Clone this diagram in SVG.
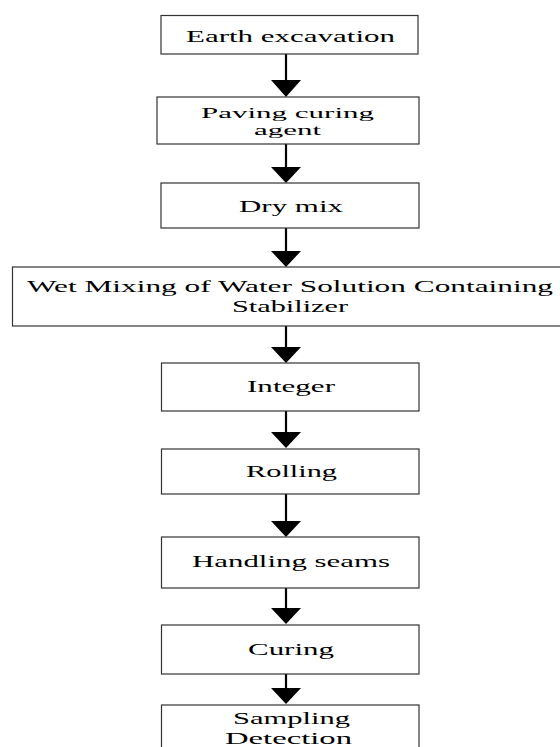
<svg xmlns="http://www.w3.org/2000/svg" width="560" height="747" viewBox="0 0 560 747">
<defs>
<style>
.box{fill:#fff;stroke:#333;stroke-width:1.2}
.t{font-family:"Liberation Serif","Times New Roman",serif;font-size:16.5px;fill:#000;text-anchor:start}
.s{font-size:15px}
.c{stroke:#000;stroke-width:2.2;fill:none}
.h{fill:#000;stroke:none}
</style>
</defs>
<rect width="560" height="747" fill="#fff"/>
<g id="connectors">
<line class="c" x1="286" y1="54" x2="286" y2="81"/>
<line class="c" x1="286" y1="144" x2="286" y2="168"/>
<line class="c" x1="286" y1="228" x2="286" y2="252"/>
<line class="c" x1="286" y1="326" x2="286" y2="348"/>
<line class="c" x1="286" y1="411" x2="286" y2="433"/>
<line class="c" x1="286" y1="494" x2="286" y2="522"/>
<line class="c" x1="286" y1="588" x2="286" y2="609"/>
<line class="c" x1="286" y1="674" x2="286" y2="689"/>
<path class="h" d="M271,80 L301,80 L286,97 Z"/>
<path class="h" d="M271,167 L301,167 L286,183 Z"/>
<path class="h" d="M271,251 L301,251 L286,267 Z"/>
<path class="h" d="M271,347 L301,347 L286,363 Z"/>
<path class="h" d="M271,432 L301,432 L286,448 Z"/>
<path class="h" d="M271,521 L301,521 L286,537 Z"/>
<path class="h" d="M271,608 L301,608 L286,624 Z"/>
<path class="h" d="M271,688 L301,688 L286,704 Z"/>
</g>
<g id="n1"><rect class="box" x="161" y="15.5" width="257" height="38.5"/><text class="t" x="186" y="42" textLength="209" lengthAdjust="spacingAndGlyphs">Earth excavation</text></g>
<g id="n2"><rect class="box" x="157" y="97" width="262" height="47"/><text class="t s" x="201" y="117.5" textLength="173" lengthAdjust="spacingAndGlyphs">Paving curing</text><text class="t s" x="254" y="135" textLength="67" lengthAdjust="spacingAndGlyphs">agent</text></g>
<g id="n3"><rect class="box" x="161" y="183" width="258" height="45"/><text class="t" x="239" y="212" textLength="104" lengthAdjust="spacingAndGlyphs">Dry mix</text></g>
<g id="n4"><rect class="box" x="12.5" y="267" width="550" height="59"/><text class="t" x="27" y="292" textLength="526" lengthAdjust="spacingAndGlyphs">Wet Mixing of Water Solution Containing</text><text class="t" x="232" y="312" textLength="116" lengthAdjust="spacingAndGlyphs">Stabilizer</text></g>
<g id="n5"><rect class="box" x="161.5" y="363" width="257.5" height="48"/><text class="t" x="247" y="392" textLength="88" lengthAdjust="spacingAndGlyphs">Integer</text></g>
<g id="n6"><rect class="box" x="161.5" y="449" width="257.5" height="45"/><text class="t" x="246" y="477" textLength="91" lengthAdjust="spacingAndGlyphs">Rolling</text></g>
<g id="n7"><rect class="box" x="161.5" y="537" width="257.5" height="51"/><text class="t" x="192" y="567" textLength="198" lengthAdjust="spacingAndGlyphs">Handling seams</text></g>
<g id="n8"><rect class="box" x="161.5" y="625" width="257.5" height="49"/><text class="t" x="248" y="655" textLength="86" lengthAdjust="spacingAndGlyphs">Curing</text></g>
<g id="n9"><rect class="box" x="161.5" y="705" width="257.5" height="60"/><text class="t" x="233" y="724" textLength="117" lengthAdjust="spacingAndGlyphs">Sampling</text><text class="t" x="225" y="744" textLength="127" lengthAdjust="spacingAndGlyphs">Detection</text></g>
</svg>
